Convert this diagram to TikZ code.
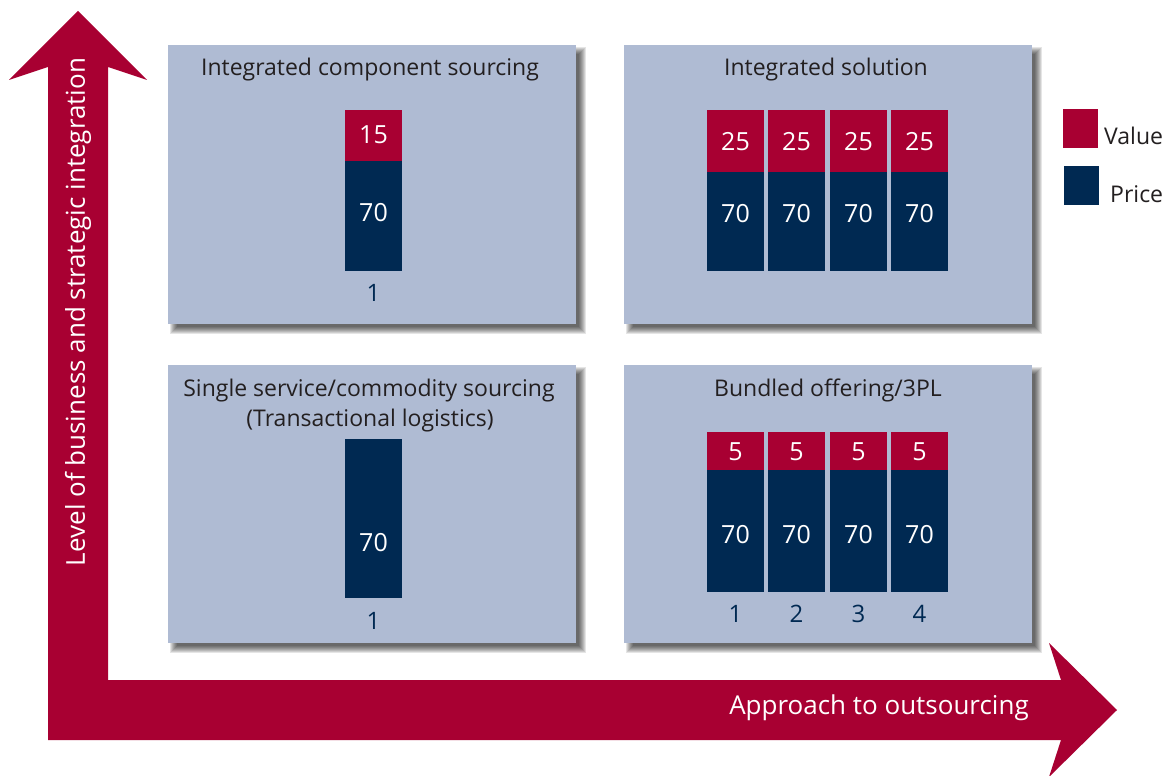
\documentclass[tikz,border=0pt]{standalone}
\usepackage{fontspec}
\setmainfont{Open Sans}
\definecolor{axisred}{RGB}{168,0,50}
\definecolor{pricenavy}{RGB}{0,41,82}
\definecolor{panelblue}{RGB}{175,187,211}
\definecolor{titlegray}{RGB}{35,31,32}

% soft shadow behind a panel: stacked translucent rectangles
\newcommand\panelshadow[4]{%
  \foreach \k in {0,...,7}{%
    \fill[black,fill opacity=0.1]
      (#1+2+\k,#2+2+\k) rectangle (#3+10-\k,#4+10-\k);
  }%
}

\begin{document}
\begin{tikzpicture}[x=1pt,y=-1pt,
  panel/.style={fill=panelblue,inner sep=0pt,minimum width=408pt,
    minimum height=279pt,anchor=north west},
  seg/.style={inner sep=0pt,minimum width=57pt,anchor=north west},
  valseg/.style={seg,fill=axisred},
  priceseg/.style={seg,fill=pricenavy},
  num/.style={text=white,inner sep=0pt,font=\fontsize{25}{25}\selectfont},
  title/.style={anchor=base,text=titlegray,font=\fontsize{23}{23}\selectfont},
  barlabel/.style={anchor=base,text=pricenavy,font=\fontsize{24}{24}\selectfont},
  axislabel/.style={text=white,font=\fontsize{26}{26}\selectfont},
  legendbox/.style={inner sep=0pt,minimum width=35pt,minimum height=39pt,anchor=north west},
  legendtext/.style={anchor=base west,inner sep=0pt,text=titlegray,font=\fontsize{23}{23}\selectfont}
]
\useasboundingbox (0,0) rectangle (1171,776);
\fill[white] (0,0) rectangle (1171,776);

% axes: one L-shaped double arrow
\fill[axisred] (48,740) -- (48,67) -- (9,80) -- (78,11) -- (147,80) -- (108,67)
  -- (108,680) -- (1061,680) -- (1049,643) -- (1117,710) -- (1049,777)
  -- (1061,740) -- cycle;
\node[axislabel,rotate=90] (yaxis) at (78,312) {Level of business and strategic integration};
\node[axislabel] (xaxis) at (879,708) {Approach to outsourcing};

% panel shadows
\panelshadow{168}{45}{576}{324}
\panelshadow{624}{45}{1032}{324}
\panelshadow{168}{365}{576}{643}
\panelshadow{624}{365}{1032}{643}

% panels
\node[panel] (icsPanel) at (168,45) {};
\node[panel] (isPanel) at (624,45) {};
\node[panel,minimum height=278pt] (sscPanel) at (168,365) {};
\node[panel,minimum height=278pt] (boPanel) at (624,365) {};

% titles
\node[title] (icsTitle) at (370,76) {Integrated component sourcing};
\node[title] (isTitle) at (826,76) {Integrated solution};
\node[title] (sscTitle) at (369,396) {Single service/commodity sourcing};
\node[title] (sscSub) at (370,426) {(Transactional logistics)};
\node[title] (boTitle) at (828,396) {Bundled offering/3PL};

% integrated component sourcing: one bar
\node[valseg,minimum height=51pt] (icsV) at (345,110) {};
\node[priceseg,minimum height=110pt] (icsP) at (345,161) {};
\node[num] (icsVn) at (373.5,135) {15};
\node[num] (icsPn) at (373.5,213) {70};
\node[barlabel] (icsL) at (373.5,301) {1};

% single service/commodity sourcing: one bar
\node[priceseg,minimum height=159pt] (sscP) at (345,439) {};
\node[num] (sscPn) at (373.5,543) {70};
\node[barlabel] (sscL) at (373.5,629) {1};

% integrated solution and bundled offering: four bars each
\foreach \x [count=\i] in {707,768,830,891}{
  \node[valseg,minimum height=62pt] (isV\i) at (\x,110) {};
  \node[priceseg,minimum height=99pt] (isP\i) at (\x,172) {};
  \node[num] (isVn\i) at (\x+28.5,142) {25};
  \node[num] (isPn\i) at (\x+28.5,214) {70};
  \node[valseg,minimum height=38pt] (boV\i) at (\x,432) {};
  \node[priceseg,minimum height=122pt] (boP\i) at (\x,470) {};
  \node[num] (boVn\i) at (\x+28.5,452) {5};
  \node[num] (boPn\i) at (\x+28.5,535) {70};
  \node[barlabel] (boL\i) at (\x+28.5,622) {\i};
}

% legend
\node[legendbox,fill=axisred] (legV) at (1063,109) {};
\node[legendbox,fill=pricenavy] (legP) at (1064,166) {};
\node[legendtext] (legVt) at (1104,144) {Value};
\node[legendtext] (legPt) at (1110,202) {Price};
\end{tikzpicture}
\end{document}
